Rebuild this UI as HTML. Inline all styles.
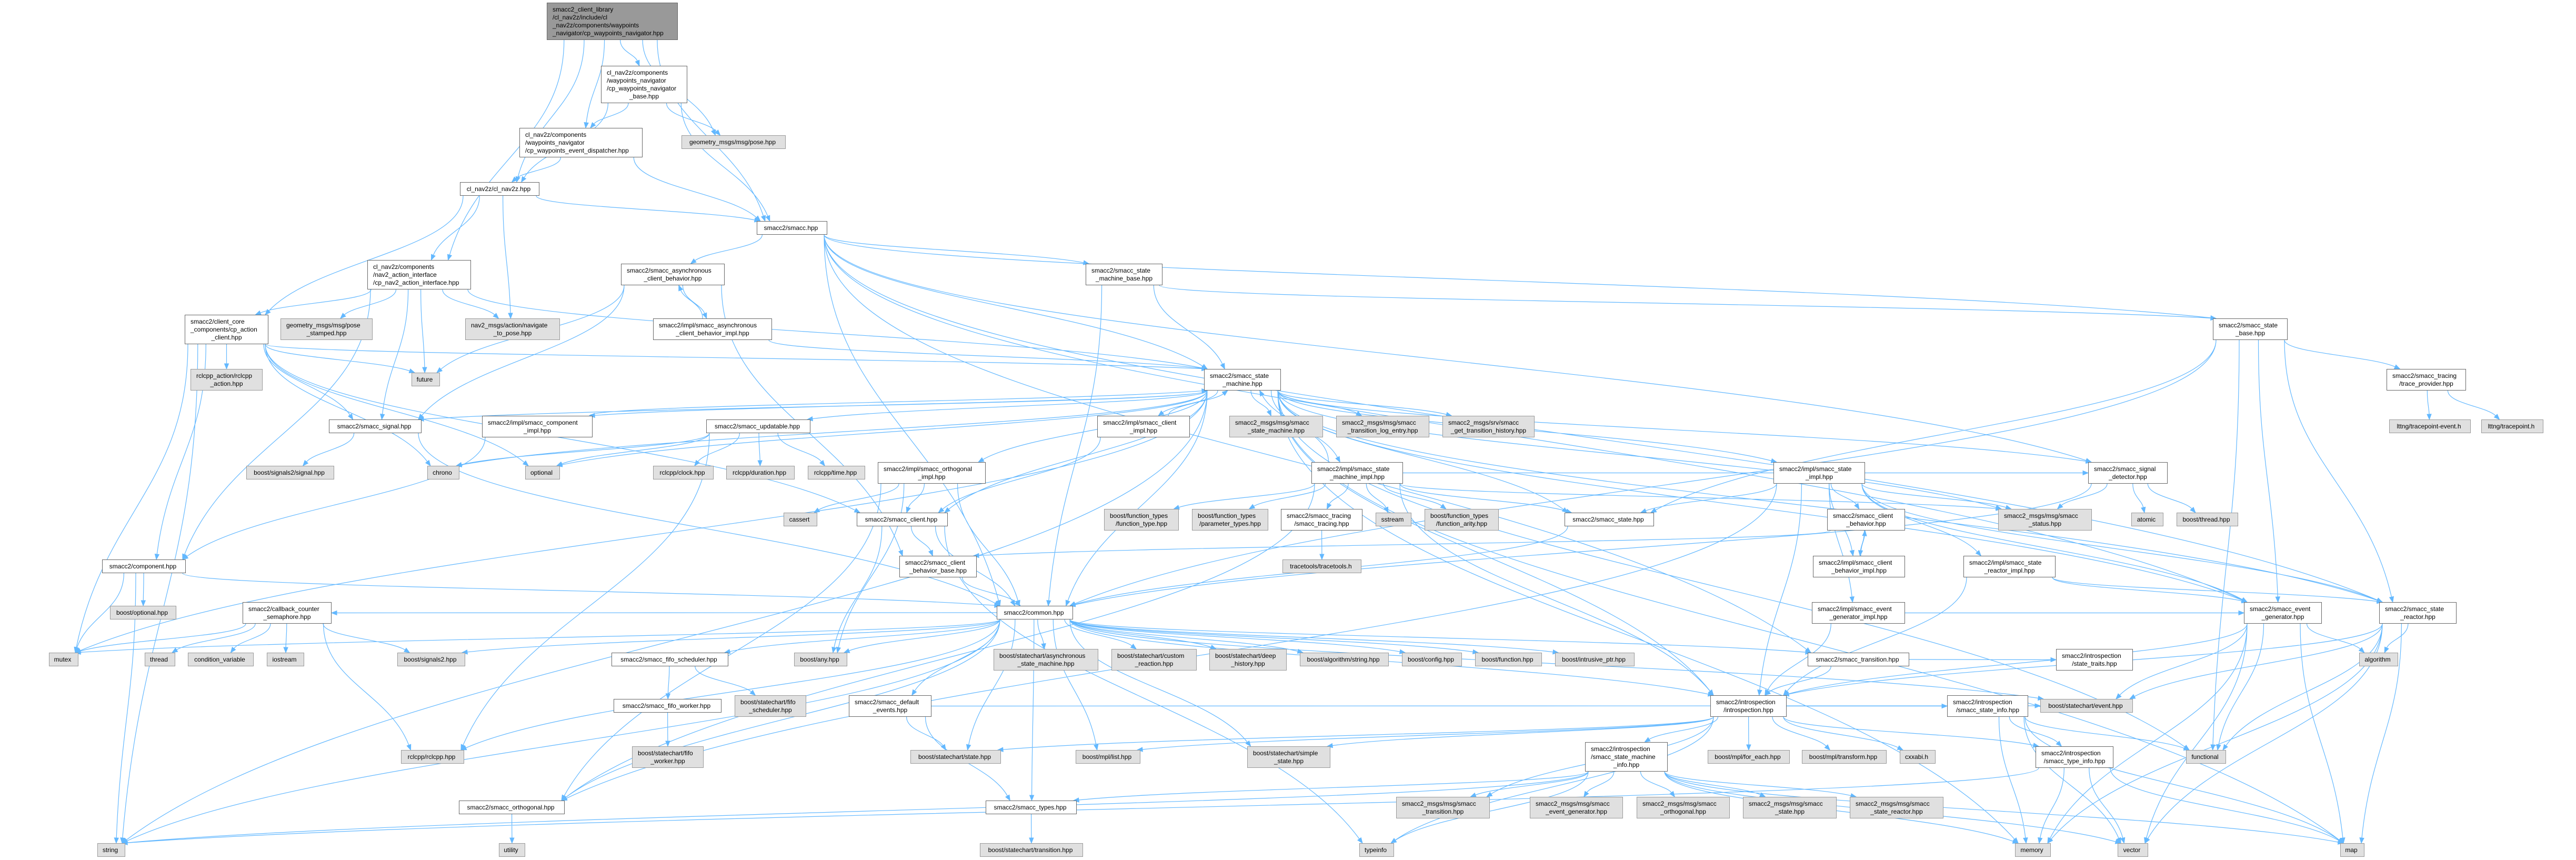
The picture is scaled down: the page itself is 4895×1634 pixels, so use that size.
<!DOCTYPE html>
<html><head><meta charset="utf-8">
<style>
html,body{margin:0;padding:0;background:#fff;}
#c{position:relative;width:4895px;height:1634px;overflow:hidden;background:#fff;}
svg{position:absolute;left:0;top:0;}
.n{position:absolute;box-sizing:border-box;border:1px solid #666;background:#fff;font-family:"Liberation Sans",Arial,sans-serif;font-size:12px;line-height:15px;color:#000;padding:5px 6px 0 10px;white-space:nowrap;overflow:visible;z-index:2;}
.n.g{background:#e0e0e0;border-color:#999;}
.n.r{background:#999;border-color:#666;}
.n p{margin:0;text-align:left;}
.n p:last-child{text-align:center;margin-left:-4px;}
.n.s{padding-left:4px;padding-right:4px;}
</style></head><body><div id="c">
<svg id="e" width="4895" height="1634"></svg>

<div class="n r" id="root" style="left:1039px;top:5px;width:249px;height:71px"><p>smacc2_client_library</p><p>/cl_nav2z/include/cl</p><p>_nav2z/components/waypoints</p><p style="text-align:left;margin:0">_navigator/cp_waypoints_navigator.hpp</p></div>
<div class="n" id="navbase" style="left:1142px;top:125px;width:164px;height:71px"><p>cl_nav2z/components</p><p>/waypoints_navigator</p><p>/cp_waypoints_navigator</p><p>_base.hpp</p></div>
<div class="n g s" id="pose" style="left:1295px;top:257px;width:198px;height:26px"><p>geometry_msgs/msg/pose.hpp</p></div>
<div class="n" id="disp" style="left:987px;top:243px;width:234px;height:56px"><p>cl_nav2z/components</p><p>/waypoints_navigator</p><p style="text-align:left;margin:0">/cp_waypoints_event_dispatcher.hpp</p></div>
<div class="n s" id="clnav" style="left:874px;top:346px;width:151px;height:26px"><p>cl_nav2z/cl_nav2z.hpp</p></div>
<div class="n s" id="smacc" style="left:1438px;top:420px;width:134px;height:26px"><p>smacc2/smacc.hpp</p></div>
<div class="n" id="aif" style="left:698px;top:494px;width:197px;height:56px"><p>cl_nav2z/components</p><p>/nav2_action_interface</p><p style="text-align:left;margin:0">/cp_nav2_action_interface.hpp</p></div>
<div class="n" id="async" style="left:1180px;top:501px;width:197px;height:41px"><p>smacc2/smacc_asynchronous</p><p>_client_behavior.hpp</p></div>
<div class="n" id="smbase" style="left:2063px;top:501px;width:146px;height:41px"><p>smacc2/smacc_state</p><p>_machine_base.hpp</p></div>
<div class="n" id="actcli" style="left:351px;top:598px;width:159px;height:56px"><p>smacc2/client_core</p><p>_components/cp_action</p><p>_client.hpp</p></div>
<div class="n g" id="posest" style="left:533px;top:605px;width:175px;height:41px"><p>geometry_msgs/msg/pose</p><p>_stamped.hpp</p></div>
<div class="n g" id="nav2" style="left:884px;top:605px;width:180px;height:41px"><p>nav2_msgs/action/navigate</p><p>_to_pose.hpp</p></div>
<div class="n" id="asyncimpl" style="left:1241px;top:605px;width:226px;height:41px"><p>smacc2/impl/smacc_asynchronous</p><p>_client_behavior_impl.hpp</p></div>
<div class="n" id="statebase" style="left:4205px;top:605px;width:142px;height:41px"><p>smacc2/smacc_state</p><p>_base.hpp</p></div>
<div class="n g" id="rclact" style="left:362px;top:701px;width:137px;height:41px"><p>rclcpp_action/rclcpp</p><p>_action.hpp</p></div>
<div class="n g s" id="future" style="left:782px;top:708px;width:54px;height:26px"><p>future</p></div>
<div class="n" id="sm" style="left:2288px;top:701px;width:146px;height:41px"><p>smacc2/smacc_state</p><p>_machine.hpp</p></div>
<div class="n" id="trace" style="left:4535px;top:701px;width:151px;height:41px"><p>smacc2/smacc_tracing</p><p>/trace_provider.hpp</p></div>

<div class="n s" id="signal" style="left:625px;top:797px;width:176px;height:26px"><p>smacc2/smacc_signal.hpp</p></div>
<div class="n" id="compimpl" style="left:916px;top:790px;width:210px;height:41px"><p>smacc2/impl/smacc_component</p><p>_impl.hpp</p></div>
<div class="n s" id="upd" style="left:1342px;top:797px;width:198px;height:26px"><p>smacc2/smacc_updatable.hpp</p></div>
<div class="n" id="cliimpl" style="left:2085px;top:790px;width:176px;height:41px"><p>smacc2/impl/smacc_client</p><p>_impl.hpp</p></div>
<div class="n g" id="msm" style="left:2336px;top:790px;width:178px;height:41px"><p>smacc2_msgs/msg/smacc</p><p>_state_machine.hpp</p></div>
<div class="n g" id="mtle" style="left:2539px;top:790px;width:177px;height:41px"><p>smacc2_msgs/msg/smacc</p><p>_transition_log_entry.hpp</p></div>
<div class="n g" id="mgth" style="left:2741px;top:790px;width:175px;height:41px"><p>smacc2_msgs/srv/smacc</p><p>_get_transition_history.hpp</p></div>
<div class="n g s" id="ltte" style="left:4540px;top:797px;width:155px;height:26px"><p>lttng/tracepoint-event.h</p></div>
<div class="n g s" id="ltt" style="left:4715px;top:797px;width:118px;height:26px"><p>lttng/tracepoint.h</p></div>

<div class="n g s" id="sig2s" style="left:468px;top:885px;width:167px;height:26px"><p>boost/signals2/signal.hpp</p></div>
<div class="n g s" id="chrono" style="left:812px;top:885px;width:61px;height:26px"><p>chrono</p></div>
<div class="n g s" id="optional" style="left:998px;top:885px;width:66px;height:26px"><p>optional</p></div>
<div class="n g s" id="clock" style="left:1241px;top:885px;width:115px;height:26px"><p>rclcpp/clock.hpp</p></div>
<div class="n g s" id="dur" style="left:1380px;top:885px;width:130px;height:26px"><p>rclcpp/duration.hpp</p></div>
<div class="n g s" id="time" style="left:1535px;top:885px;width:109px;height:26px"><p>rclcpp/time.hpp</p></div>
<div class="n" id="orthimpl" style="left:1668px;top:878px;width:205px;height:41px"><p>smacc2/impl/smacc_orthogonal</p><p>_impl.hpp</p></div>
<div class="n" id="smimpl" style="left:2492px;top:878px;width:174px;height:41px"><p>smacc2/impl/smacc_state</p><p>_machine_impl.hpp</p></div>
<div class="n" id="stimpl" style="left:3370px;top:878px;width:174px;height:41px"><p>smacc2/impl/smacc_state</p><p>_impl.hpp</p></div>
<div class="n" id="sigdet" style="left:3968px;top:878px;width:151px;height:41px"><p>smacc2/smacc_signal</p><p>_detector.hpp</p></div>

<div class="n g s" id="cassert" style="left:1489px;top:974px;width:64px;height:26px"><p>cassert</p></div>
<div class="n s" id="client" style="left:1628px;top:974px;width:173px;height:26px"><p>smacc2/smacc_client.hpp</p></div>
<div class="n g" id="ftype" style="left:2098px;top:967px;width:142px;height:41px"><p>boost/function_types</p><p>/function_type.hpp</p></div>
<div class="n g" id="ptypes" style="left:2265px;top:967px;width:145px;height:41px"><p>boost/function_types</p><p>/parameter_types.hpp</p></div>
<div class="n" id="tracing" style="left:2434px;top:967px;width:155px;height:41px"><p>smacc2/smacc_tracing</p><p>/smacc_tracing.hpp</p></div>
<div class="n g s" id="sstream" style="left:2614px;top:974px;width:68px;height:26px"><p>sstream</p></div>
<div class="n g" id="farity" style="left:2707px;top:967px;width:141px;height:41px"><p>boost/function_types</p><p>/function_arity.hpp</p></div>
<div class="n s" id="state" style="left:2973px;top:974px;width:170px;height:26px"><p>smacc2/smacc_state.hpp</p></div>
<div class="n" id="cb" style="left:3472px;top:967px;width:148px;height:41px"><p>smacc2/smacc_client</p><p>_behavior.hpp</p></div>
<div class="n g" id="status" style="left:3797px;top:967px;width:178px;height:41px"><p>smacc2_msgs/msg/smacc</p><p>_status.hpp</p></div>
<div class="n g s" id="atomic" style="left:4050px;top:974px;width:61px;height:26px"><p>atomic</p></div>
<div class="n g s" id="bthread" style="left:4136px;top:974px;width:117px;height:26px"><p>boost/thread.hpp</p></div>

<div class="n s" id="comp" style="left:194px;top:1063px;width:159px;height:26px"><p>smacc2/component.hpp</p></div>
<div class="n" id="cbbase" style="left:1709px;top:1056px;width:147px;height:41px"><p>smacc2/smacc_client</p><p>_behavior_base.hpp</p></div>
<div class="n g s" id="tracetools" style="left:2437px;top:1063px;width:150px;height:26px"><p>tracetools/tracetools.h</p></div>
<div class="n" id="cbimpl" style="left:3445px;top:1056px;width:175px;height:41px"><p>smacc2/impl/smacc_client</p><p>_behavior_impl.hpp</p></div>
<div class="n" id="srimpl" style="left:3731px;top:1056px;width:175px;height:41px"><p>smacc2/impl/smacc_state</p><p>_reactor_impl.hpp</p></div>

<div class="n" id="ccs" style="left:461px;top:1144px;width:169px;height:41px"><p>smacc2/callback_counter</p><p>_semaphore.hpp</p></div>
<div class="n g s" id="bopt" style="left:209px;top:1151px;width:126px;height:26px"><p>boost/optional.hpp</p></div>
<div class="n s" id="common" style="left:1894px;top:1151px;width:145px;height:26px"><p>smacc2/common.hpp</p></div>
<div class="n" id="egimpl" style="left:3443px;top:1144px;width:177px;height:41px"><p>smacc2/impl/smacc_event</p><p>_generator_impl.hpp</p></div>
<div class="n" id="eg" style="left:4264px;top:1144px;width:148px;height:41px"><p>smacc2/smacc_event</p><p>_generator.hpp</p></div>
<div class="n" id="sr" style="left:4521px;top:1144px;width:147px;height:41px"><p>smacc2/smacc_state</p><p>_reactor.hpp</p></div>

<div class="n g s" id="mutex" style="left:93px;top:1240px;width:56px;height:26px"><p>mutex</p></div>
<div class="n g s" id="thread" style="left:275px;top:1240px;width:58px;height:26px"><p>thread</p></div>
<div class="n g s" id="condvar" style="left:357px;top:1240px;width:125px;height:26px"><p>condition_variable</p></div>
<div class="n g s" id="iostream" style="left:507px;top:1240px;width:71px;height:26px"><p>iostream</p></div>
<div class="n g s" id="sig2" style="left:755px;top:1240px;width:129px;height:26px"><p>boost/signals2.hpp</p></div>
<div class="n s" id="fifosch" style="left:1162px;top:1240px;width:222px;height:26px"><p>smacc2/smacc_fifo_scheduler.hpp</p></div>
<div class="n g s" id="any" style="left:1509px;top:1240px;width:101px;height:26px"><p>boost/any.hpp</p></div>
<div class="n g" id="asm" style="left:1888px;top:1233px;width:199px;height:41px"><p>boost/statechart/asynchronous</p><p>_state_machine.hpp</p></div>
<div class="n g" id="cr" style="left:2112px;top:1233px;width:162px;height:41px"><p>boost/statechart/custom</p><p>_reaction.hpp</p></div>
<div class="n g" id="dh" style="left:2298px;top:1233px;width:147px;height:41px"><p>boost/statechart/deep</p><p>_history.hpp</p></div>
<div class="n g s" id="algstr" style="left:2470px;top:1240px;width:169px;height:26px"><p>boost/algorithm/string.hpp</p></div>
<div class="n g s" id="config" style="left:2664px;top:1240px;width:114px;height:26px"><p>boost/config.hpp</p></div>
<div class="n g s" id="func" style="left:2803px;top:1240px;width:127px;height:26px"><p>boost/function.hpp</p></div>
<div class="n g s" id="iptr" style="left:2955px;top:1240px;width:151px;height:26px"><p>boost/intrusive_ptr.hpp</p></div>
<div class="n s" id="trans" style="left:3435px;top:1240px;width:193px;height:26px"><p>smacc2/smacc_transition.hpp</p></div>
<div class="n" id="traits" style="left:3907px;top:1233px;width:146px;height:41px"><p>smacc2/introspection</p><p>/state_traits.hpp</p></div>
<div class="n g s" id="algo" style="left:4483px;top:1240px;width:74px;height:26px"><p>algorithm</p></div>

<div class="n s" id="fifow" style="left:1166px;top:1328px;width:205px;height:26px"><p>smacc2/smacc_fifo_worker.hpp</p></div>
<div class="n g" id="bfifosch" style="left:1396px;top:1321px;width:136px;height:41px"><p>boost/statechart/fifo</p><p>_scheduler.hpp</p></div>
<div class="n" id="defev" style="left:1613px;top:1321px;width:157px;height:41px"><p>smacc2/smacc_default</p><p>_events.hpp</p></div>
<div class="n" id="intro" style="left:3250px;top:1321px;width:145px;height:41px"><p>smacc2/introspection</p><p>/introspection.hpp</p></div>
<div class="n" id="stinfo" style="left:3700px;top:1321px;width:154px;height:41px"><p>smacc2/introspection</p><p>/smacc_state_info.hpp</p></div>
<div class="n g s" id="event" style="left:3877px;top:1328px;width:176px;height:26px"><p>boost/statechart/event.hpp</p></div>

<div class="n g s" id="rclcpp" style="left:762px;top:1425px;width:120px;height:26px"><p>rclcpp/rclcpp.hpp</p></div>
<div class="n g" id="bfifow" style="left:1201px;top:1418px;width:136px;height:41px"><p>boost/statechart/fifo</p><p>_worker.hpp</p></div>
<div class="n g s" id="bstate" style="left:1730px;top:1425px;width:172px;height:26px"><p>boost/statechart/state.hpp</p></div>
<div class="n g s" id="mpllist" style="left:2044px;top:1425px;width:123px;height:26px"><p>boost/mpl/list.hpp</p></div>
<div class="n g" id="simple" style="left:2370px;top:1418px;width:158px;height:41px"><p>boost/statechart/simple</p><p>_state.hpp</p></div>
<div class="n" id="sminfo" style="left:3012px;top:1410px;width:157px;height:56px"><p>smacc2/introspection</p><p>/smacc_state_machine</p><p>_info.hpp</p></div>
<div class="n g s" id="foreach" style="left:3245px;top:1425px;width:156px;height:26px"><p>boost/mpl/for_each.hpp</p></div>
<div class="n g s" id="transform" style="left:3424px;top:1425px;width:161px;height:26px"><p>boost/mpl/transform.hpp</p></div>
<div class="n g s" id="cxxabi" style="left:3610px;top:1425px;width:68px;height:26px"><p>cxxabi.h</p></div>
<div class="n" id="typeinfo_" style="left:3868px;top:1418px;width:148px;height:41px"><p>smacc2/introspection</p><p>/smacc_type_info.hpp</p></div>
<div class="n g s" id="functional" style="left:4154px;top:1425px;width:76px;height:26px"><p>functional</p></div>

<div class="n s" id="orth" style="left:872px;top:1521px;width:201px;height:26px"><p>smacc2/smacc_orthogonal.hpp</p></div>
<div class="n s" id="types" style="left:1873px;top:1521px;width:173px;height:26px"><p>smacc2/smacc_types.hpp</p></div>
<div class="n g" id="mtr" style="left:2653px;top:1514px;width:178px;height:41px"><p>smacc2_msgs/msg/smacc</p><p>_transition.hpp</p></div>
<div class="n g" id="meg" style="left:2907px;top:1514px;width:177px;height:41px"><p>smacc2_msgs/msg/smacc</p><p>_event_generator.hpp</p></div>
<div class="n g" id="mor" style="left:3110px;top:1514px;width:177px;height:41px"><p>smacc2_msgs/msg/smacc</p><p>_orthogonal.hpp</p></div>
<div class="n g" id="mst" style="left:3312px;top:1514px;width:178px;height:41px"><p>smacc2_msgs/msg/smacc</p><p>_state.hpp</p></div>
<div class="n g" id="msr" style="left:3515px;top:1514px;width:178px;height:41px"><p>smacc2_msgs/msg/smacc</p><p>_state_reactor.hpp</p></div>

<div class="n g s" id="string" style="left:185px;top:1602px;width:53px;height:26px"><p>string</p></div>
<div class="n g s" id="utility" style="left:948px;top:1602px;width:50px;height:26px"><p>utility</p></div>
<div class="n g s" id="btrans" style="left:1862px;top:1602px;width:196px;height:26px"><p>boost/statechart/transition.hpp</p></div>
<div class="n g s" id="typeinfo" style="left:2583px;top:1602px;width:66px;height:26px"><p>typeinfo</p></div>
<div class="n g s" id="memory" style="left:3829px;top:1602px;width:68px;height:26px"><p>memory</p></div>
<div class="n g s" id="vector" style="left:4024px;top:1602px;width:58px;height:26px"><p>vector</p></div>
<div class="n g s" id="map" style="left:4447px;top:1602px;width:46px;height:26px"><p>map</p></div>
</div>
<script>
(function(){
var E={
root:"navbase pose disp clnav aif smacc",
navbase:"disp pose smacc clnav",
disp:"clnav smacc",
clnav:"aif actcli nav2 smacc",
aif:"actcli posest nav2 future signal comp sm",
actcli:"rclact future signal comp mutex string sm client optional chrono",
smacc:"async smbase common sm statebase sigdet trans sr eg",
async:"asyncimpl signal future cbbase",
asyncimpl:"async sm",
smbase:"sm common statebase",
statebase:"trace sr eg common functional state",
trace:"ltte ltt",
sm:"msm mtle mgth signal compimpl upd cliimpl orthimpl smimpl stimpl common state status sigdet client sr eg intro chrono optional mutex map memory functional string",
signal:"sig2s common",
compimpl:"comp sm",
upd:"clock dur time rclcpp optional chrono",
cliimpl:"client sm",
orthimpl:"client orth cassert common any",
smimpl:"tracing sstream farity state ftype ptypes intro sigdet orth status sm",
stimpl:"state cb cbimpl egimpl srimpl sr eg intro orth status",
sigdet:"status atomic bthread common",
client:"cbbase common typeinfo any",
tracing:"tracetools",
state:"common",
cb:"cbimpl cbbase",
cbimpl:"cb",
comp:"common bopt string mutex",
cbbase:"common",
srimpl:"sr eg intro",
ccs:"mutex thread condvar iostream sig2 rclcpp",
common:"fifosch any asm cr dh algstr config func iptr trans defev intro bstate mpllist simple event types orth rclcpp string mutex sig2 ccs",
egimpl:"eg intro",
eg:"algo event functional map memory vector intro",
sr:"algo event functional map memory vector intro",
fifosch:"fifow bfifosch",
fifow:"bfifow",
defev:"bstate types event",
trans:"intro traits",
intro:"sminfo foreach transform cxxabi stinfo typeinfo_ mtr typeinfo event bstate simple mpllist",
stinfo:"typeinfo_ memory vector map functional",
sminfo:"mtr meg mor mst msr types memory map vector string typeinfo",
typeinfo_:"memory vector map string",
orth:"utility",
types:"btrans"
};
var NS="http://www.w3.org/2000/svg",svg=document.getElementById('e');
function B(id){var d=document.getElementById(id);return {x:d.offsetLeft,y:d.offsetTop,w:d.offsetWidth,h:d.offsetHeight};}
function cl(v,a,b){return Math.max(a,Math.min(b,v));}
var P="",A="";
for(var s in E){var L=E[s].split(' ');for(var i=0;i<L.length;i++){
 var t=L[i];if(!document.getElementById(t))continue;
 var a=B(s),b=B(t),acx=a.x+a.w/2,bcx=b.x+b.w/2,sx,sy,ex,ey,c1x,c1y,c2x,c2y;
 if(b.y>a.y+a.h){sx=cl(acx+(bcx-acx)*0.25,a.x+6,a.x+a.w-6);sy=a.y+a.h;ex=cl(bcx+(acx-bcx)*0.15,b.x+6,b.x+b.w-6);ey=b.y;
   var dy=(ey-sy)*0.45;c1x=sx;c1y=sy+dy;c2x=ex+(sx-ex)*0.25;c2y=ey-dy;}
 else if(b.y+b.h<a.y){sx=cl(acx+(bcx-acx)*0.25,a.x+6,a.x+a.w-6);sy=a.y;ex=cl(bcx+(acx-bcx)*0.15,b.x+6,b.x+b.w-6);ey=b.y+b.h;
   var dy=(sy-ey)*0.45;c1x=sx;c1y=sy-dy;c2x=ex+(sx-ex)*0.25;c2y=ey+dy;}
 else{sy=a.y+a.h/2;ey=b.y+b.h/2;if(bcx>acx){sx=a.x+a.w;ex=b.x;}else{sx=a.x;ex=b.x+b.w;}
   var dx=(ex-sx)*0.4;c1x=sx+dx;c1y=sy;c2x=ex-dx;c2y=ey;}
 var vx=ex-c2x,vy=ey-c2y,l=Math.sqrt(vx*vx+vy*vy)||1;vx/=l;vy/=l;
 var bx=ex-vx*10,by=ey-vy*10,px=-vy*4,py=vx*4;
 P+="M"+sx.toFixed(1)+" "+sy.toFixed(1)+"C"+c1x.toFixed(1)+" "+c1y.toFixed(1)+" "+c2x.toFixed(1)+" "+c2y.toFixed(1)+" "+bx.toFixed(1)+" "+by.toFixed(1);
 A+="M"+ex.toFixed(1)+" "+ey.toFixed(1)+"L"+(bx+px).toFixed(1)+" "+(by+py).toFixed(1)+"L"+(bx-px).toFixed(1)+" "+(by-py).toFixed(1)+"Z";
}}
var p=document.createElementNS(NS,'path');p.setAttribute('d',P);p.setAttribute('fill','none');p.setAttribute('stroke','#63b8ff');p.setAttribute('stroke-width','1.2');svg.appendChild(p);
var q=document.createElementNS(NS,'path');q.setAttribute('d',A);q.setAttribute('fill','#63b8ff');q.setAttribute('stroke','#63b8ff');svg.appendChild(q);
})();
</script>
</body></html>
